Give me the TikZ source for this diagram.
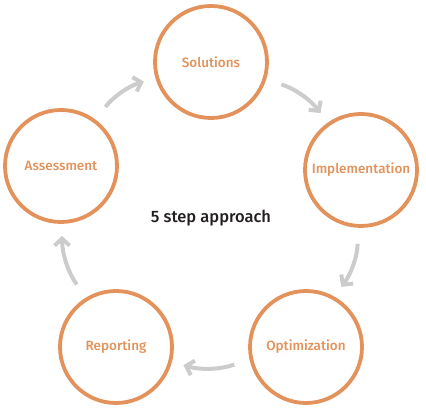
\documentclass[tikz,border=0pt]{standalone}
\usepackage{fontspec}
\setmainfont{Fira Sans}
\newfontfamily\stepfont{Fira Sans Medium}
\usetikzlibrary{arrows.meta}
\definecolor{ringorange}{RGB}{226,146,90}
\definecolor{flowgray}{RGB}{204,204,204}
\definecolor{inkdark}{RGB}{35,31,32}

\begin{document}
\begin{tikzpicture}[x=1pt, y=1pt,
    stage/.style={circle, draw=ringorange, line width=3.8pt, minimum size=112pt,
      inner sep=0pt, text=ringorange, font=\stepfont\fontsize{13.5}{16}\selectfont},
    flow/.style={draw=flowgray, line width=4pt, bend left=18,
      -{Straight Barb[length=7pt, width=15pt]},
      shorten <=16pt, shorten >=12pt}]

  \useasboundingbox (0,0) rectangle (426,410);

  % Five stages of the cycle.
  \node[stage] (sol) at (211,348) {Solutions};
  \node[stage] (imp) at (361,240) {Implementation};
  \node[stage] (opt) at (306,63) {Optimization};
  \node[stage] (rep) at (116,63) {Reporting};
  \node[stage] (asm) at (61,244) {Assessment};

  \node[text=inkdark, font=\stepfont\fontsize{16.5}{19}\selectfont] (mid) at (211,192) {5 step approach};

  % Clockwise arrows between the stages.
  \draw[flow] (asm.53) to (sol.196);
  \draw[flow] (sol.-18) to (imp.125);
  \draw[flow] (imp.267) to (opt.61);
  \draw[flow] (opt.192) to (rep.-15);
  \draw[flow] (rep.121) to (asm.271);

\end{tikzpicture}
\end{document}
